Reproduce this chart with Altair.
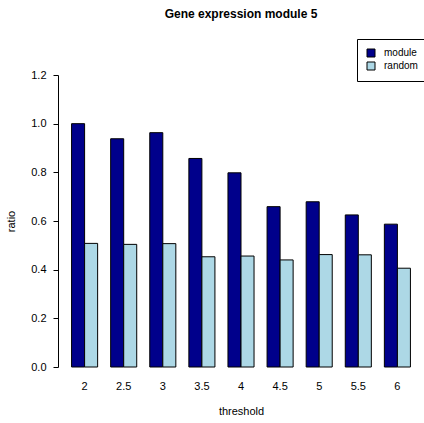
import altair as alt
import pandas as pd

thresholds = ["2", "2.5", "3", "3.5", "4", "4.5", "5", "5.5", "6"]
module_vals = [1.0, 0.938, 0.963, 0.857, 0.798, 0.659, 0.679, 0.625, 0.587]
random_vals = [0.508, 0.504, 0.507, 0.453, 0.456, 0.440, 0.462, 0.461, 0.406]
series = ["module", "random"]
colors = ["#00008B", "#ADD8E6"]

rows = []
for t, m, r in zip(thresholds, module_vals, random_vals):
    rows.append({"threshold": t, "series": "module", "ratio": m})
    rows.append({"threshold": t, "series": "random", "ratio": r})
df = pd.DataFrame(rows)

FONT = "Liberation Sans"

chart = alt.Chart(df).mark_bar(stroke="black", strokeWidth=1).encode(
    x=alt.X("threshold:N", sort=thresholds,
            scale=alt.Scale(paddingInner=1/3, paddingOuter=0.347),
            axis=alt.Axis(title="threshold", labelAngle=0, domain=False, ticks=False,
                          tickSize=0, labelPadding=13, titlePadding=14,
                          labelFontSize=11, titleFontSize=11, titleFontWeight="normal",
                          labelColor="black", titleColor="black")),
    xOffset=alt.XOffset("series:N", sort=series,
                        scale=alt.Scale(paddingInner=0, paddingOuter=0)),
    y=alt.Y("ratio:Q", scale=alt.Scale(domain=[0, 1.2], nice=False, zero=True),
            axis=alt.Axis(title="ratio", values=[0, 0.2, 0.4, 0.6, 0.8, 1.0, 1.2],
                          format=".1f", grid=False, domainColor="black", tickColor="black",
                          tickSize=5, labelPadding=7, titlePadding=14,
                          labelFontSize=11, titleFontSize=11, titleFontWeight="normal",
                          labelColor="black", titleColor="black")),
    fill=alt.Fill("series:N", sort=series,
                  scale=alt.Scale(domain=series, range=colors),
                  legend=alt.Legend(title=None, orient="none", legendX=299, legendY=-36,
                                    symbolType="square", symbolSize=64,
                                    symbolStrokeColor="black", symbolStrokeWidth=1,
                                    labelFontSize=10, labelColor="black",
                                    strokeColor="black", padding=9, rowPadding=1,
                                    labelOffset=8, fillColor="white")),
).properties(
    width=366,
    height=292,
    title=alt.Title("Gene expression module 5", fontSize=12, fontWeight="bold",
                    anchor="middle", offset=18, color="black"),
    autosize=alt.AutoSizeParams(type="none"),
    padding={"left": 58, "top": 75, "right": 0, "bottom": 56},
).configure(font=FONT).configure_view(stroke=None)

chart.save("out.html", embed_options={"renderer": "svg", "actions": False})
